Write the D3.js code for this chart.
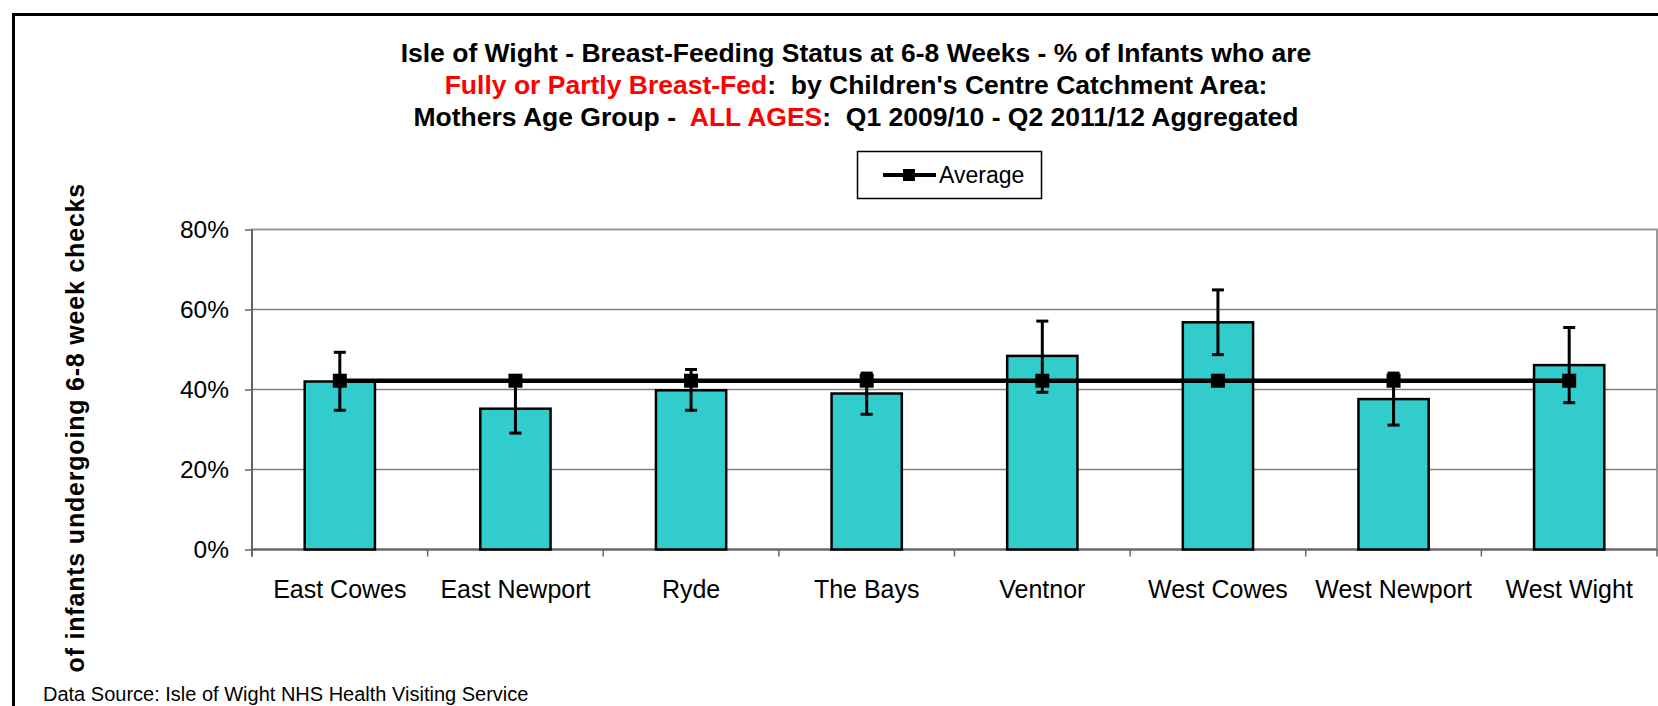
<!DOCTYPE html>
<html>
<head>
<meta charset="utf-8">
<script src="https://cdn.jsdelivr.net/npm/d3@7"></script>
<style>
  body { margin: 0; background: #fff; }
  svg { display: block; font-family: "Liberation Sans", Arial, sans-serif; }
  .axis path { display: none; }
</style>
</head>
<body>
<div id="chart"></div>
<script>
// data
var areas = ["East Cowes", "East Newport", "Ryde", "The Bays", "Ventnor", "West Cowes", "West Newport", "West Wight"];
var breastFed = [0.420, 0.352, 0.398, 0.390, 0.484, 0.568, 0.376, 0.461];
var errorUpper = [0.493, 0.414, 0.450, 0.441, 0.571, 0.649, 0.441, 0.555];
var errorLower = [0.348, 0.291, 0.348, 0.338, 0.393, 0.487, 0.311, 0.367];
var average = [0.422, 0.422, 0.422, 0.422, 0.422, 0.422, 0.422, 0.422];
var yTicks = [0, 0.2, 0.4, 0.6, 0.8];

var svgWidth = 1658;
var svgHeight = 706;

var margin = { top: 229.5, right: 1, bottom: 156.5, left: 252 };
var width = svgWidth - margin.left - margin.right;
var height = svgHeight - margin.top - margin.bottom;

var svg = d3.select("#chart")
  .append("svg")
  .attr("width", svgWidth)
  .attr("height", svgHeight);

svg.append("rect")
  .attr("width", svgWidth)
  .attr("height", svgHeight)
  .attr("fill", "#fff");

// chart border, runs off the right and bottom edges
svg.append("rect")
  .attr("x", 13.5)
  .attr("y", 14.5)
  .attr("width", 1800)
  .attr("height", 900)
  .attr("fill", "none")
  .attr("stroke", "#000")
  .attr("stroke-width", 3);

// title
var title = svg.append("text")
  .attr("text-anchor", "middle")
  .attr("font-weight", "bold")
  .attr("font-size", "26.5px")
  .style("white-space", "pre");

title.append("tspan").attr("x", 856).attr("y", 62)
  .text("Isle of Wight - Breast-Feeding Status at 6-8 Weeks - % of Infants who are");

var line2 = title.append("tspan").attr("x", 856).attr("y", 94);
line2.append("tspan").attr("fill", "#ff0000").text("Fully or Partly Breast-Fed");
line2.append("tspan").text(":  by Children's Centre Catchment Area:");

var line3 = title.append("tspan").attr("x", 856).attr("y", 126);
line3.append("tspan").text("Mothers Age Group -  ");
line3.append("tspan").attr("fill", "#ff0000").text("ALL AGES");
line3.append("tspan").text(":  Q1 2009/10 - Q2 2011/12 Aggregated");

// legend
var legend = svg.append("g");
legend.append("rect")
  .attr("x", 857.5).attr("y", 151.5)
  .attr("width", 184).attr("height", 47)
  .attr("fill", "#fff")
  .attr("stroke", "#000")
  .attr("stroke-width", 1.5);
legend.append("line")
  .attr("x1", 883).attr("x2", 936)
  .attr("y1", 175).attr("y2", 175)
  .attr("stroke", "#000")
  .attr("stroke-width", 4);
legend.append("rect")
  .attr("x", 903).attr("y", 169)
  .attr("width", 12).attr("height", 12)
  .attr("fill", "#000");
legend.append("text")
  .attr("x", 939).attr("y", 183)
  .attr("font-size", "23px")
  .text("Average");

var chartGroup = svg.append("g")
  .attr("transform", `translate(${margin.left}, ${margin.top})`);

var xBandScale = d3.scaleBand()
  .domain(areas)
  .range([0, width])
  .paddingInner(0.6)
  .paddingOuter(0.3);

var yLinearScale = d3.scaleLinear()
  .domain([0, 0.8])
  .range([height, 0]);

var step = xBandScale.step();

// plot area border
chartGroup.append("rect")
  .attr("width", width)
  .attr("height", height)
  .attr("fill", "none")
  .attr("stroke", "#999")
  .attr("stroke-width", 2);

// gridlines
chartGroup.selectAll(".grid")
  .data(yTicks.slice(0, -1))
  .enter()
  .append("line")
  .attr("x1", 0)
  .attr("x2", width)
  .attr("y1", d => yLinearScale(d))
  .attr("y2", d => yLinearScale(d))
  .attr("stroke", "#808080")
  .attr("stroke-width", 1.3);

// y axis
var leftAxis = d3.axisLeft(yLinearScale)
  .tickValues(yTicks)
  .tickFormat(d3.format(".0%"))
  .tickSize(7)
  .tickPadding(16);

var yAxis = chartGroup.append("g")
  .attr("class", "axis")
  .call(leftAxis);
yAxis.selectAll("text")
  .attr("font-size", "24.5px")
  .attr("font-family", "\"Liberation Sans\", Arial, sans-serif")
  .attr("fill", "#000");
yAxis.selectAll("line")
  .attr("stroke", "#666")
  .attr("stroke-width", 1.5);

// x axis labels
var bottomAxis = d3.axisBottom(xBandScale)
  .tickSize(0)
  .tickPadding(30.5);

var xAxis = chartGroup.append("g")
  .attr("class", "axis")
  .attr("transform", `translate(0, ${height})`)
  .call(bottomAxis);
xAxis.selectAll("text")
  .attr("font-size", "25px")
  .attr("font-family", "\"Liberation Sans\", Arial, sans-serif")
  .attr("fill", "#000");

// x tick marks between categories
chartGroup.selectAll(".xtick")
  .data(d3.range(areas.length + 1))
  .enter()
  .append("line")
  .attr("x1", i => i * step)
  .attr("x2", i => i * step)
  .attr("y1", height)
  .attr("y2", height + 7)
  .attr("stroke", "#666")
  .attr("stroke-width", 1.5);

// axis lines
chartGroup.append("line")
  .attr("x1", 0).attr("x2", 0)
  .attr("y1", 0).attr("y2", height + 7)
  .attr("stroke", "#666")
  .attr("stroke-width", 2);
chartGroup.append("line")
  .attr("x1", 0).attr("x2", width)
  .attr("y1", height).attr("y2", height)
  .attr("stroke", "#666")
  .attr("stroke-width", 2);

// bars
chartGroup.selectAll(".bar")
  .data(areas)
  .enter()
  .append("rect")
  .attr("class", "bar")
  .attr("x", d => xBandScale(d))
  .attr("y", (d, i) => yLinearScale(breastFed[i]))
  .attr("width", xBandScale.bandwidth())
  .attr("height", (d, i) => height - yLinearScale(breastFed[i]))
  .attr("fill", "#33cccc")
  .attr("stroke", "#000")
  .attr("stroke-width", 2.5);

// error bars
var cx = d => xBandScale(d) + xBandScale.bandwidth() / 2;
var errGroup = chartGroup.append("g")
  .attr("stroke", "#000")
  .attr("stroke-width", 3);

errGroup.selectAll(".errv")
  .data(areas)
  .enter()
  .append("line")
  .attr("x1", cx).attr("x2", cx)
  .attr("y1", (d, i) => yLinearScale(errorUpper[i]))
  .attr("y2", (d, i) => yLinearScale(errorLower[i]));

[errorUpper, errorLower].forEach(function(ends) {
  errGroup.selectAll(null)
    .data(areas)
    .enter()
    .append("line")
    .attr("x1", d => cx(d) - 6)
    .attr("x2", d => cx(d) + 6)
    .attr("y1", (d, i) => yLinearScale(ends[i]))
    .attr("y2", (d, i) => yLinearScale(ends[i]));
});

// average line
var avgLine = d3.line()
  .x(d => cx(d))
  .y((d, i) => yLinearScale(average[i]));

chartGroup.append("path")
  .datum(areas)
  .attr("d", avgLine)
  .attr("fill", "none")
  .attr("stroke", "#000")
  .attr("stroke-width", 4.5);

chartGroup.selectAll(".marker")
  .data(areas)
  .enter()
  .append("rect")
  .attr("x", d => cx(d) - 7)
  .attr("y", (d, i) => yLinearScale(average[i]) - 7)
  .attr("width", 14)
  .attr("height", 14)
  .attr("fill", "#000");

// y axis title, cut off at the bottom like the original
svg.append("clipPath")
  .attr("id", "ylabClip")
  .append("rect")
  .attr("x", 0).attr("y", 0)
  .attr("width", 200).attr("height", 680);

svg.append("g")
  .attr("clip-path", "url(#ylabClip)")
  .append("text")
  .attr("transform", "translate(84, 183) rotate(-90)")
  .attr("text-anchor", "end")
  .attr("font-weight", "bold")
  .attr("font-size", "25px")
  .attr("letter-spacing", "0.8px")
  .text("% of infants undergoing 6-8 week checks");

// source note
svg.append("text")
  .attr("x", 43)
  .attr("y", 701)
  .attr("font-size", "20px")
  .text("Data Source: Isle of Wight NHS Health Visiting Service");
</script>
</body>
</html>
